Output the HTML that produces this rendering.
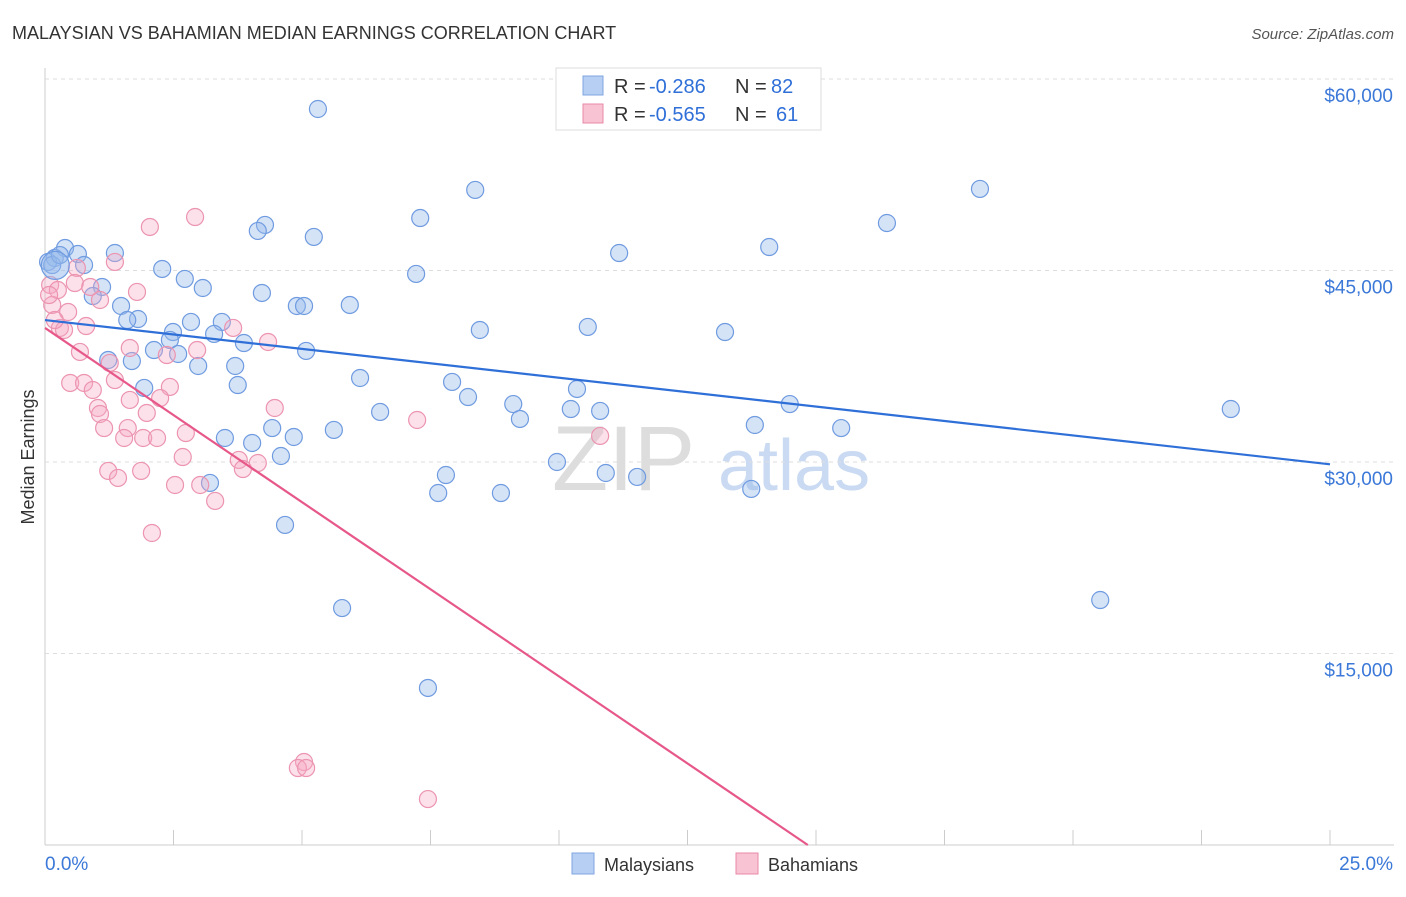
<!DOCTYPE html>
<html><head><meta charset="utf-8"><style>
body{margin:0;background:#fff;font-family:"Liberation Sans",sans-serif;}
svg text{font-family:"Liberation Sans",sans-serif;}
</style></head><body>
<svg id="chart" width="1406" height="892">
<text x="12" y="39" font-size="18" fill="#333">MALAYSIAN VS BAHAMIAN MEDIAN EARNINGS CORRELATION CHART</text>
<text x="1394" y="39" font-size="15" fill="#555" font-style="italic" text-anchor="end">Source: ZipAtlas.com</text>
<text x="0" y="0" transform="translate(34,457) rotate(-90)" font-size="18" fill="#333" text-anchor="middle">Median Earnings</text>
<g><text x="552" y="490" font-size="92" fill="#ddd" font-family="Liberation Serif">ZIP</text><text x="718" y="490" font-size="72" fill="#c9daf2">atlas</text></g>
<g id="grid"></g><g id="pts"></g><g id="lines"></g>
<g>
<rect x="556" y="68" width="265" height="62" fill="#fff" stroke="#ddd"/>
<rect x="583" y="76" width="20" height="19" fill="#b7cff2" stroke="#7fa6e0"/>
<rect x="583" y="104" width="20" height="19" fill="#f8c4d4" stroke="#e88aa8"/>
<text x="614" y="93" font-size="20" fill="#333">R =</text>
<text x="649" y="93" font-size="20" fill="#2f6fd8">-0.286</text>
<text x="735" y="93" font-size="20" fill="#333">N =</text>
<text x="771" y="93" font-size="20" fill="#2f6fd8">82</text>
<text x="614" y="121" font-size="20" fill="#333">R =</text>
<text x="649" y="121" font-size="20" fill="#2f6fd8">-0.565</text>
<text x="735" y="121" font-size="20" fill="#333">N =</text>
<text x="776" y="121" font-size="20" fill="#2f6fd8">61</text>
</g>
<g>
<rect x="572" y="853" width="22" height="21" fill="#b7cff2" stroke="#7fa6e0"/>
<text x="604" y="871" font-size="18" fill="#333">Malaysians</text>
<rect x="736" y="853" width="22" height="21" fill="#f8c4d4" stroke="#e88aa8"/>
<text x="768" y="871" font-size="18" fill="#333">Bahamians</text>
</g>
</svg>
<script>
const xTicks=[0,2.5,5,7.5,10,12.5,15,17.5,20,22.5,25];
const yTicks=[15000,30000,45000,60000];
const yTickLabels=["$15,000","$30,000","$45,000","$60,000"];
const malX=[5.31,8.37,18.19,7.30,16.38,4.28,4.14,5.23,14.09,11.17,1.36,0.39,0.64,0.19,0.06,0.76,2.28,7.22,2.72,3.07,1.11,0.93,4.22,4.90,5.04,5.93,1.48,1.81,1.60,2.84,3.44,10.56,8.46,13.23,2.49,3.29,2.43,3.87,2.12,5.08,2.59,1.23,1.69,2.98,3.70,6.13,7.92,3.75,1.93,10.35,8.23,9.11,14.49,6.52,10.23,10.80,9.24,23.07,13.81,15.49,5.62,4.42,3.50,4.03,4.84,4.59,9.96,7.80,10.91,11.52,3.21,7.65,8.87,13.74,4.67,20.53,5.78,7.45,0.14,0.29];
const malY=[57650,51310,51390,49110,48720,48570,48100,47630,46840,46370,46370,46760,46290,45980,45670,45430,45120,44730,44340,43630,43710,43000,43240,42220,42220,42300,42220,41200,41120,40970,40970,40580,40340,40180,40180,40030,39560,39320,38770,38700,38460,37990,37910,37520,37520,36580,36270,36030,35800,35720,35090,34540,34540,33920,34150,34000,33370,34150,32900,32660,32510,32660,31880,31490,31960,30470,30000,28980,29140,28830,28360,27570,27570,27890,25070,19190,18560,12300,45430,46210];
const bahX=[2.92,2.04,1.36,0.62,0.10,0.25,0.58,1.07,1.79,0.45,0.14,0.29,0.80,0.37,3.66,1.65,2.96,4.34,0.68,2.37,1.26,0.49,0.76,0.93,1.36,2.43,2.24,4.47,1.03,1.07,1.98,7.24,1.15,1.61,1.54,1.91,2.18,2.74,10.80,2.68,3.77,4.14,1.23,1.87,3.85,1.42,2.53,3.02,3.31,2.08,5.04,4.92,5.08,7.45,0.08,0.19,0.88,1.65];
const bahY=[49190,48410,45670,45200,43870,43470,44020,42690,43320,41750,42300,40500,40650,40340,40500,38930,38770,39400,38620,38380,37760,36190,36190,35640,36420,35880,35010,34230,34230,33760,33840,33290,32660,32660,31880,31880,31880,32270,32040,30390,30160,29920,29300,29300,29450,28750,28200,28200,26950,24440,6500,6030,6030,3600,43080,41120,43710,34860];
const malTrend=[41120,-452];
const bahTrend=[40500,-2729];
const X=v=>45+v/25*1285, Y=v=>845-v/15000*191.5;
const NS="http://www.w3.org/2000/svg";
function mk(t,a,p){const e=document.createElementNS(NS,t);for(const k in a)e.setAttribute(k,a[k]);p.appendChild(e);return e;}
const grid=document.getElementById('grid');
const ax=mk('line',{x1:45,y1:68,x2:45,y2:845,stroke:'#ccc'},grid);


const bx=mk('line',{x1:45,y1:845,x2:1394,y2:845,stroke:'#ccc'},grid);


yTicks.forEach((v,i)=>{
 const g=mk('line',{x1:45,y1:Y(v),x2:1394,y2:Y(v),stroke:'#ddd','stroke-dasharray':'4,4'},grid);
 
 
 const t=mk('text',{x:1393,y:Y(v)+23,'font-size':19,fill:'#3b78d8','text-anchor':'end'},grid);
 t.textContent=yTickLabels[i];
 
 
});
xTicks.forEach(v=>{
 const t=mk('line',{x1:X(v),y1:830,x2:X(v),y2:845,stroke:'#ccc'},grid);
 
 
});
const xl0=mk('text',{x:45,y:870,'font-size':19,fill:'#3b78d8'},grid);xl0.textContent="0.0%";


const xl1=mk('text',{x:1393,y:870,'font-size':19,fill:'#3b78d8','text-anchor':'end'},grid);xl1.textContent="25.0%";


const pts=document.getElementById('pts');
malX.forEach((x,i)=>{
 const c=mk('circle',{cx:X(x),cy:Y(malY[i]),r:8.5,fill:'rgba(150,186,236,0.4)',stroke:'#6f9be0','stroke-width':1.2},pts);
 
 
});
bahX.forEach((x,i)=>{
 const c=mk('circle',{cx:X(x),cy:Y(bahY[i]),r:8.5,fill:'rgba(246,170,195,0.35)',stroke:'#ec94b0','stroke-width':1.2},pts);
 
 
});
const big=mk('circle',{cx:X(0.2),cy:Y(45400),r:14,fill:'rgba(150,186,236,0.5)',stroke:'#6f9be0','stroke-width':1.2},pts);


const lines=document.getElementById('lines');
const l1=mk('line',{x1:X(0),y1:Y(malTrend[0]),x2:X(25),y2:Y(malTrend[0]+malTrend[1]*25),stroke:'#2f6fd8','stroke-width':2.2},lines);


const bEnd=-bahTrend[0]/bahTrend[1];
const l2=mk('line',{x1:X(0),y1:Y(bahTrend[0]),x2:X(bEnd),y2:Y(0),stroke:'#e7588a','stroke-width':2.2},lines);


</script>
</body></html>
